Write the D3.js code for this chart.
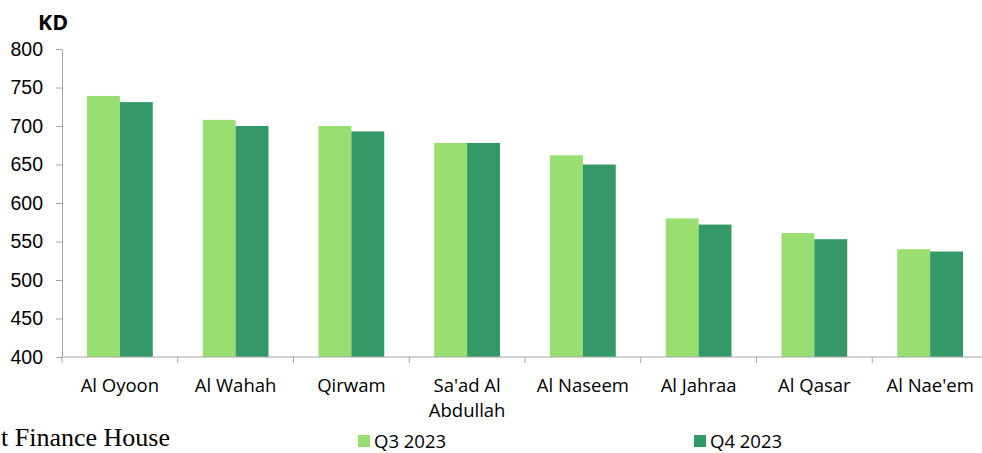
<!DOCTYPE html>
<html>
<head>
<meta charset="utf-8">
<script src="https://cdn.jsdelivr.net/npm/d3@7"></script>
<style>
	body { margin: 0; background: #fff; overflow: hidden; }
	svg { display: block; font-family: "Open Sans", sans-serif; }
	.axis path, .axis line { stroke: #a6a6a6; }
	.axis text { fill: #000; }
	.y.axis text { font-size: 19.5px; }
	.x.axis text { font-size: 18.5px; }
</style>
</head>
<body>
<div id="graphic"></div>
<script>
// Data
var CATEGORIES = ['Al Oyoon', 'Al Wahah', 'Qirwam', "Sa'ad Al Abdullah", 'Al Naseem', 'Al Jahraa', 'Al Qasar', "Al Nae'em"];
var SERIES = ['Q3 2023', 'Q4 2023'];
var Q3_VALUES = [739, 708, 700, 678, 662, 580, 561, 540];
var Q4_VALUES = [731, 700, 693, 678, 650, 572, 553, 537];
var Y_TICKS = [400, 450, 500, 550, 600, 650, 700, 750, 800];

var COLORS = ['#99de71', '#349967'];

var WIDTH = 982;
var HEIGHT = 453;

function renderGraphic() {
	var margins = { top: 49, left: 62, bottom: 96 };
	var chartHeight = HEIGHT - margins.top - margins.bottom;
	var step = 115.75;

	var svg = d3.select('#graphic').append('svg')
		.attr('width', WIDTH)
		.attr('height', HEIGHT);

	var chart = svg.append('g')
		.attr('transform', 'translate(' + margins.left + ',' + margins.top + ')');

	var rows = CATEGORIES.map(function(c, i) {
		return { name: c, values: [Q3_VALUES[i], Q4_VALUES[i]] };
	});

	var xScale = d3.scaleBand()
		.domain(CATEGORIES)
		.range([0, step * CATEGORIES.length])
		.paddingInner(0.432)
		.paddingOuter(0.216);

	var xSub = d3.scaleBand()
		.domain([0, 1])
		.range([0, xScale.bandwidth()]);

	var yScale = d3.scaleLinear()
		.domain([400, 800])
		.range([chartHeight, 0]);

	// y axis
	chart.append('g')
		.attr('class', 'y axis')
		.call(d3.axisLeft(yScale).tickValues(Y_TICKS).tickSize(6).tickSizeOuter(0).tickPadding(13));

	// bars
	var groups = chart.append('g').selectAll('g')
		.data(rows)
		.enter().append('g')
		.attr('transform', function(d) { return 'translate(' + xScale(d.name) + ',0)'; });

	groups.selectAll('rect')
		.data(function(d) { return d.values; })
		.enter().append('rect')
		.attr('x', function(d, i) { return xSub(i); })
		.attr('y', function(d) { return yScale(d); })
		.attr('width', xSub.bandwidth())
		.attr('height', function(d) { return chartHeight - yScale(d); })
		.attr('fill', function(d, i) { return COLORS[i]; });

	// x axis: line plus ticks at category boundaries
	var xAxis = chart.append('g')
		.attr('class', 'x axis')
		.attr('transform', 'translate(0,' + chartHeight + ')');

	xAxis.append('line')
		.attr('x1', 0).attr('x2', xScale.range()[1])
		.attr('y1', 0).attr('y2', 0);

	xAxis.selectAll('line.tick')
		.data(d3.range(CATEGORIES.length + 1))
		.enter().append('line')
		.attr('class', 'tick')
		.attr('x1', function(i) { return i * xScale.step(); })
		.attr('x2', function(i) { return i * xScale.step(); })
		.attr('y1', 0).attr('y2', 6);

	var labels = xAxis.selectAll('text')
		.data(CATEGORIES)
		.enter().append('text')
		.attr('y', 35)
		.attr('text-anchor', 'middle');

	labels.each(function(d) {
		var lines = d === "Sa'ad Al Abdullah" ? ["Sa'ad Al", 'Abdullah'] : [d];
		var el = d3.select(this);
		lines.forEach(function(l, i) {
			el.append('tspan')
				.attr('x', xScale(d) + xScale.bandwidth() / 2)
				.attr('dy', i === 0 ? 0 : 25)
				.text(l);
		});
	});

	// unit label
	svg.append('text')
		.attr('x', 38)
		.attr('y', 30)
		.style('font-size', '21.5px')
		.style('font-weight', 'bold')
		.text('KD');

	// legend
	var legendX = [358, 694];
	var legend = svg.append('g').selectAll('g')
		.data(SERIES)
		.enter().append('g')
		.attr('transform', function(d, i) { return 'translate(' + legendX[i] + ',435)'; });

	legend.append('rect')
		.attr('width', 12).attr('height', 12)
		.attr('fill', function(d, i) { return COLORS[i]; });

	legend.append('text')
		.attr('x', 16)
		.attr('y', 13)
		.style('font-size', '18.5px')
		.text(function(d) { return d; });

	// source note, visible part only (the original is cut at the left edge)
	svg.append('text')
		.attr('x', 1)
		.attr('y', 446)
		.style('font-family', '"Liberation Serif", serif')
		.style('font-size', '26px')
		.text('t Finance House');
}

document.addEventListener('DOMContentLoaded', renderGraphic);
</script>
</body>
</html>
